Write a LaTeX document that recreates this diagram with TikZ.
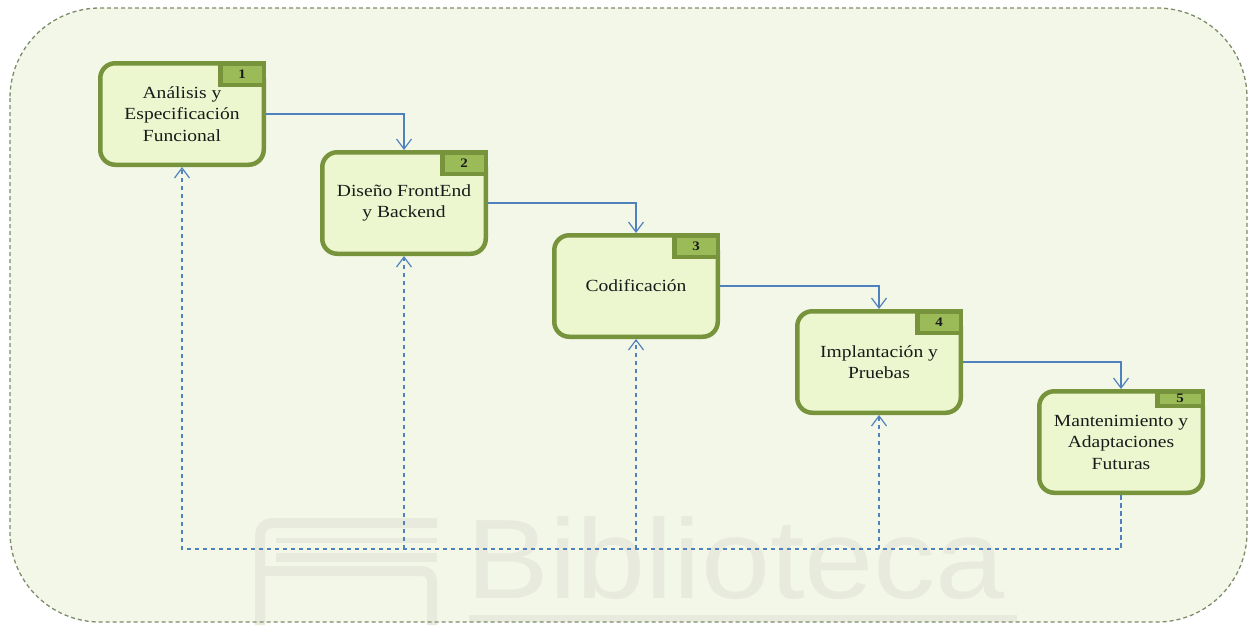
\documentclass[tikz,border=0pt]{standalone}
\usepackage{fontspec}
\setmainfont{Liberation Serif}[FakeStretch=1.15]
\newfontfamily\wmfont{Liberation Sans}[FakeStretch=1.1]
\usetikzlibrary{arrows.meta}

\definecolor{paper}{HTML}{F3F7E7}
\definecolor{frameline}{HTML}{7C8C68}
\definecolor{boxfill}{HTML}{ECF7D0}
\definecolor{boxedge}{HTML}{77933C}
\definecolor{tabfill}{HTML}{9BBB59}
\definecolor{linkblue}{HTML}{4F81BD}
\definecolor{wmark}{HTML}{E7EADC}
\definecolor{ink}{HTML}{1A1A1A}

\tikzset{
  stepbox/.style={draw=boxedge, fill=boxfill, line width=4.5pt, rounded corners=15pt,
    minimum width=163.5pt, minimum height=101.5pt, align=center, text=ink,
    font=\fontsize{17}{21.5}\selectfont},
  steptab/.style={draw=boxedge, fill=tabfill, line width=4.5pt, sharp corners,
    minimum width=43.5pt, minimum height=21.5pt, inner sep=0pt, text=ink,
    font=\bfseries\fontsize{13}{14}\selectfont},
  flow/.style={draw=linkblue, line width=1.2pt, -{Straight Barb[length=10pt,width=15pt]}},
  feedback/.style={flow, dash pattern=on 4.5pt off 3.5pt},
  wmstroke/.style={draw=wmark, line cap=butt}
}

\begin{document}
\begin{tikzpicture}[x=1pt, y=-1pt]
  \useasboundingbox (0,0) rectangle (1249,625);
  \fill[white] (0,0) rectangle (1249,625);

  % rounded panel behind the process
  \fill[paper, rounded corners=90pt] (10,8) rectangle (1247,622);

  % faint library watermark
  \begin{scope}[wmstroke]
    \draw[line width=10pt, rounded corners=12pt] (260,625) -- (260,523) -- (437,523);
    \draw[line width=5pt] (276,540) -- (437,540);
    \draw[line width=9pt] (276,557) -- (437,557);
    \draw[line width=10pt, rounded corners=10pt] (265,571) -- (432,571) -- (432,625);
  \end{scope}
  \fill[wmark] (469,615) rectangle (1017,622);
  \node[anchor=base west, inner sep=0pt, text=wmark,
        font=\wmfont\fontsize{113}{113}\selectfont] (wmtext) at (466,598) {Biblioteca};

  % panel outline
  \draw[frameline, line width=1.3pt, dash pattern=on 4pt off 3pt, rounded corners=90pt]
    (10,8) rectangle (1247,622);

  % process steps
  \node[stepbox] (s1) at (182,114) {Análisis y\\Especificación\\Funcional};
  \node[steptab, anchor=north east] (t1) at (s1.north east) {1};

  \node[stepbox] (s2) at (404,203) {Diseño FrontEnd\\y Backend};
  \node[steptab, anchor=north east] (t2) at (s2.north east) {2};

  \node[stepbox] (s3) at (636,286) {Codificación};
  \node[steptab, anchor=north east] (t3) at (s3.north east) {3};

  \node[stepbox] (s4) at (879,362) {Implantación y\\Pruebas};
  \node[steptab, anchor=north east] (t4) at (s4.north east) {4};

  \node[stepbox] (s5) at (1121,442) {Mantenimiento y\\Adaptaciones\\Futuras};
  \node[steptab, anchor=north east, minimum width=45.5pt, minimum height=14.5pt] (t5) at (s5.north east) {5};

  % forward flow
  \draw[flow] (s1.east) -| (s2.north);
  \draw[flow] (s2.east) -| (s3.north);
  \draw[flow] (s3.east) -| (s4.north);
  \draw[flow] (s4.east) -| (s5.north);

  % feedback to earlier steps
  \coordinate (bus) at (0,549);
  \draw[feedback] (s5.south) |- (s1.south |- bus) -- (s1.south);
  \draw[feedback] (s2.south |- bus) -- (s2.south);
  \draw[feedback] (s3.south |- bus) -- (s3.south);
  \draw[feedback] (s4.south |- bus) -- (s4.south);
\end{tikzpicture}
\end{document}
